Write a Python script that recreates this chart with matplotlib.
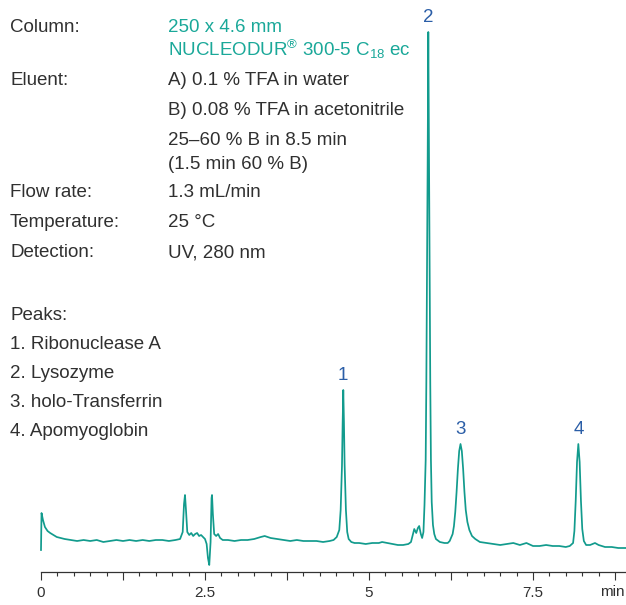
import matplotlib
matplotlib.use("Agg")
import matplotlib.pyplot as plt
import numpy as np

plt.rcParams['font.family'] = ['Liberation Sans', 'DejaVu Sans']
plt.rcParams['mathtext.fontset'] = 'custom'
plt.rcParams['mathtext.rm'] = 'Liberation Sans'
plt.rcParams['mathtext.it'] = 'Liberation Sans'
plt.rcParams['mathtext.bf'] = 'Liberation Sans'

# ---- data (time in min, signal in arbitrary units) ----
time = [0.000, 0.008, 0.030, 0.060, 0.100, 0.140, 0.190, 0.240, 0.300, 0.360,
        0.450, 0.550, 0.650, 0.750, 0.850, 0.950, 1.050, 1.150, 1.250, 1.350,
        1.450, 1.550, 1.650, 1.750, 1.850, 1.950, 2.050, 2.120, 2.160, 2.180,
        2.195, 2.210, 2.230, 2.260, 2.290, 2.320, 2.350, 2.380, 2.410, 2.440,
        2.470, 2.500, 2.525, 2.545, 2.565, 2.585, 2.600, 2.607, 2.620, 2.640,
        2.670, 2.700, 2.730, 2.770, 2.850, 2.950, 3.050, 3.150, 3.250, 3.350,
        3.410, 3.500, 3.600, 3.700, 3.800, 3.900, 4.000, 4.100, 4.200, 4.300,
        4.400, 4.460, 4.508, 4.547, 4.568, 4.588, 4.598, 4.608, 4.618, 4.628,
        4.648, 4.668, 4.690, 4.730, 4.780, 4.850, 4.950, 5.050, 5.150, 5.200,
        5.280, 5.360, 5.440, 5.520, 5.600, 5.640, 5.670, 5.690, 5.720, 5.745,
        5.765, 5.790, 5.810, 5.830, 5.846, 5.864, 5.874, 5.884, 5.894, 5.899,
        5.904, 5.909, 5.914, 5.924, 5.934, 5.944, 5.956, 5.975, 5.995, 6.020,
        6.080, 6.150, 6.200, 6.230, 6.275, 6.295, 6.315, 6.335, 6.355, 6.375,
        6.395, 6.415, 6.435, 6.455, 6.475, 6.500, 6.530, 6.570, 6.620, 6.690,
        6.790, 6.900, 7.000, 7.100, 7.200, 7.300, 7.400, 7.500, 7.600, 7.700,
        7.800, 7.900, 8.000, 8.060, 8.111, 8.131, 8.151, 8.171, 8.191, 8.211,
        8.231, 8.251, 8.275, 8.310, 8.370, 8.445, 8.500, 8.598, 8.700, 8.800,
        8.918]
signal = [22, 59, 52, 45, 41, 39, 37, 35, 34, 33,
          32, 31, 32, 31, 32, 30, 31, 32, 31, 32,
          31, 32, 31, 32, 32, 31, 32, 33, 40, 68,
          77, 62, 40, 37, 39, 36, 38, 39, 36, 37,
          35, 33, 28, 14, 7, 30, 74, 77, 58, 38,
          36, 38, 34, 32, 32, 31, 32, 32, 33, 35,
          36, 34, 33, 32, 31, 32, 31, 31, 31, 30,
          31, 32, 35, 42, 62, 106, 148, 182, 150, 108,
          62, 40, 33, 30, 29, 29, 28, 29, 29, 30,
          29, 28, 27, 27, 28, 30, 38, 43, 39, 44,
          46, 38, 34, 40, 67, 112, 189, 292, 408, 480,
          540, 480, 408, 292, 189, 112, 70, 47, 38, 33,
          30, 29, 29, 31, 38, 46, 60, 80, 103, 121,
          128, 121, 103, 80, 62, 50, 42, 36, 33, 30,
          29, 28, 27, 28, 29, 27, 29, 26, 26, 27,
          26, 26, 25, 26, 29, 41, 71, 110, 128, 110,
          71, 43, 31, 27, 27, 29, 27, 25, 25, 24,
          24]

peak_labels = ['1', '2', '3', '4']
peak_times = [4.608, 5.904, 6.395, 8.191]
peak_heights = [182, 540, 128, 128]

tick_positions = [0, 1.25, 2.5, 3.75, 5, 6.25, 7.5, 8.75]
tick_labels = ['0', '', '2.5', '', '5', '', '7.5', '']
unit_label = 'min'

info_left = ['Column:', 'Eluent:', 'Flow rate:', 'Temperature:', 'Detection:']
info_right_column = ['250 x 4.6 mm', r'NUCLEODUR$^{®}$ 300-5 C$_{18}$ ec']
info_right_eluent = ['A) 0.1 % TFA in water', 'B) 0.08 % TFA in acetonitrile',
                     '25–60 % B in 8.5 min', '(1.5 min 60 % B)']
info_right_other = ['1.3 mL/min', '25 °C', 'UV, 280 nm']
peaks_title = 'Peaks:'
peak_names = ['1. Ribonuclease A', '2. Lysozyme', '3. holo-Transferrin', '4. Apomyoglobin']

# ---- styling ----
TEAL = '#129b8d'
TEAL_TXT = '#1aa899'
BLUE = '#2b5ea7'
DARK = '#303030'
W, H = 626, 605

fig = plt.figure(figsize=(W / 100, H / 100), dpi=100)
ax = fig.add_axes([0, 0, 1, 1])
ax.set_xlim(-41 / 65.6, (W - 41) / 65.6)
ax.set_ylim(-(H - 572), 572)

ax.plot(time, signal, color=TEAL, lw=1.25, solid_joinstyle='round')

for lab, t, h in zip(peak_labels, peak_times, peak_heights):
    ax.text(t, h + 6, lab, color=BLUE, fontsize=13.5, ha='center', va='bottom')

for s in ['top', 'left', 'right']:
    ax.spines[s].set_visible(False)
ax.spines['bottom'].set_position(('data', 0))
ax.spines['bottom'].set_bounds(0, (W - 41) / 65.6)
ax.spines['bottom'].set_color('#333333')
ax.spines['bottom'].set_linewidth(0.9)
ax.set_yticks([])
ax.set_xticks(tick_positions)
ax.set_xticklabels(tick_labels)
ax.set_xticks(np.arange(0, 8.9, 0.25), minor=True)
ax.tick_params(axis='x', which='major', direction='out', length=6, width=0.8,
               color='#333333', labelsize=11, labelcolor=DARK, pad=4)
ax.tick_params(axis='x', which='minor', direction='out', length=3, width=0.8,
               color='#333333')
fig.text(612 / W, 1 - 592 / H, unit_label, color=DARK, fontsize=11,
         ha='center', va='center')


def ftext(x, y, s, color=DARK, size=13.5):
    fig.text(x / W, 1 - y / H, s, color=color, fontsize=size, ha='left', va='baseline')


X1, X2 = 10, 168
ftext(X1, 32, info_left[0])
ftext(X2, 32, info_right_column[0], color=TEAL_TXT)
ftext(X2, 56, info_right_column[1], color=TEAL_TXT)
ftext(X1, 85, info_left[1])
for i, s in enumerate(info_right_eluent):
    ftext(X2, [85, 115, 145, 169][i], s)
for i, y in enumerate([197, 227, 257]):
    ftext(X1, y, info_left[2 + i])
    ftext(X2, y, info_right_other[i])
ftext(X1, 320, peaks_title)
for i, s in enumerate(peak_names):
    ftext(X1, [349, 378, 407, 436][i], s)

fig.savefig('out.png', dpi=100)
